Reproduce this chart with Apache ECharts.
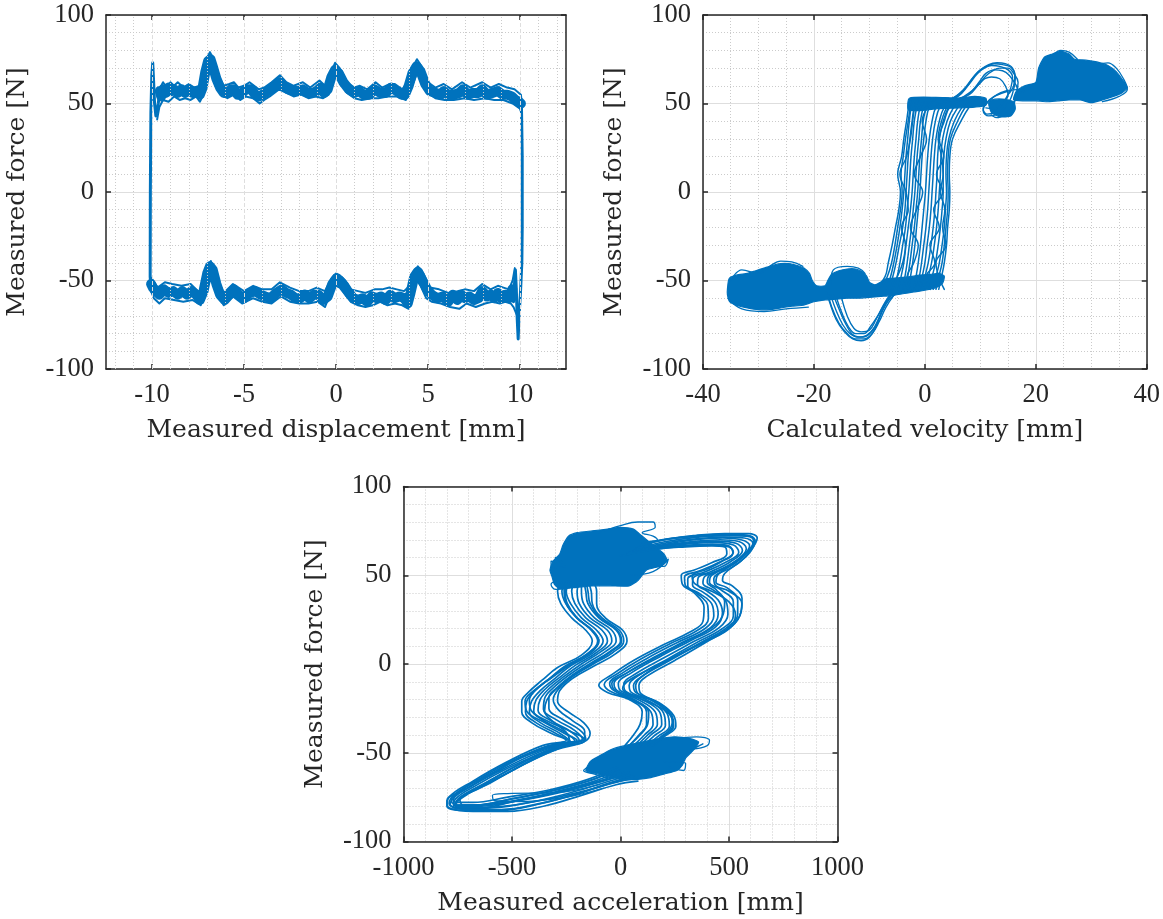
<!DOCTYPE html>
<html>
<head>
<meta charset="utf-8">
<script src="https://cdn.jsdelivr.net/npm/echarts@6/dist/echarts.min.js"></script>
<style>
  html, body { margin: 0; padding: 0; background: #ffffff; }
  #chart { width: 1163px; height: 919px; }
</style>
</head>
<body>
<div id="chart"></div>
<script>
// ---------------------------------------------------------------------------
// Axis ticks
// ---------------------------------------------------------------------------
const forceTicks = [-100, -50, 0, 50, 100];
const dispTicks = [-10, -5, 0, 5, 10];
const dispMinorGrid = [-12, -11, -9, -8, -7, -6, -4, -3, -2, -1, 1, 2, 3, 4, 6, 7, 8, 9, 11, 12];
const velTicks = [-40, -20, 0, 20, 40];
const accTicks = [-1000, -500, 0, 500, 1000];

// ---------------------------------------------------------------------------
// Force vs displacement: upper branch (moving right) and lower branch (moving left)
// ---------------------------------------------------------------------------
const dispUpper = [[-9.58,57],[-9.5,54],[-9.4,58],[-9.25,56],[-9.1,59],[-8.95,57],[-8.8,58],[-8.6,56],[-8.4,58],[-8.2,56],[-8.0,58],[-7.8,56],[-7.6,57],[-7.4,55],[-7.25,59],[-7.1,68],[-6.95,74],[-6.82,75],[-6.7,71],[-6.5,64],[-6.3,59],[-6.1,56],[-5.9,56],[-5.7,58],[-5.55,58],[-5.35,55],[-5.1,56],[-4.9,58],[-4.6,58],[-4.4,55],[-4.2,54],[-4.0,55],[-3.7,57],[-3.4,59],[-3.1,62],[-2.85,60],[-2.6,58],[-2.3,57],[-2.05,57],[-1.8,58],[-1.55,56],[-1.3,56],[-1.05,57],[-0.85,59],[-0.65,56],[-0.45,58],[-0.25,65],[-0.05,69],[0.15,67],[0.4,62],[0.7,58],[1.0,56],[1.25,57],[1.5,55],[1.8,55],[2.1,58],[2.4,56],[2.7,56],[3.0,59],[3.3,57],[3.55,55],[3.75,55],[3.95,60],[4.15,67],[4.38,71],[4.6,68],[4.85,61],[5.1,57],[5.4,56],[5.7,55],[5.85,57],[6.1,55],[6.4,55],[6.7,56],[6.9,58],[7.15,55],[7.45,56],[7.75,56],[7.95,58],[8.2,55],[8.5,56],[8.8,57],[9.05,55],[9.3,55],[9.55,54],[9.75,52],[9.95,51],[10.05,50]];
const dispUpperHi = [[-9.6,58],[-9.4,62],[-9.2,59],[-9.0,62],[-8.8,60],[-8.6,62],[-8.3,59],[-8.0,61],[-7.7,59],[-7.4,60],[-7.2,64],[-7.0,76],[-6.85,79],[-6.7,76],[-6.4,66],[-6.1,60],[-5.8,61],[-5.55,62],[-5.3,59],[-5.0,60],[-4.7,62],[-4.45,60],[-4.2,58],[-3.9,59],[-3.5,62],[-3.05,66],[-2.7,62],[-2.3,60],[-1.8,62],[-1.4,59],[-0.9,63],[-0.6,60],[-0.3,67],[-0.05,73],[0.2,70],[0.6,62],[1.0,59],[1.3,60],[1.7,58],[2.15,62],[2.5,59],[2.9,61],[3.2,61],[3.6,58],[3.9,62],[4.15,70],[4.4,75],[4.65,71],[5.0,62],[5.4,59],[5.85,61],[6.3,58],[6.85,62],[7.3,59],[7.95,62],[8.4,59],[8.85,61],[9.3,59],[9.7,58],[10.05,55],[10.1,50]];
const dispUpperLo = [[-9.72,41],[-9.6,48],[-9.4,52],[-9.1,51],[-8.8,54],[-8.5,52],[-8.2,53],[-7.9,52],[-7.6,54],[-7.4,51],[-7.2,55],[-7.0,64],[-6.85,70],[-6.7,68],[-6.45,60],[-6.2,55],[-5.9,53],[-5.55,55],[-5.2,52],[-4.9,54],[-4.5,53],[-4.15,50],[-3.9,52],[-3.6,54],[-3.1,58],[-2.7,56],[-2.3,54],[-1.9,55],[-1.5,53],[-1.1,54],[-0.7,53],[-0.4,55],[-0.1,65],[0.2,63],[0.6,56],[1.0,53],[1.4,52],[1.9,53],[2.3,53],[2.8,54],[3.3,54],[3.8,52],[4.1,59],[4.4,67],[4.7,64],[5.0,56],[5.4,53],[5.9,52],[6.4,52],[7.0,53],[7.5,52],[8.1,53],[8.6,52],[9.1,52],[9.6,50],[10.0,47],[10.1,44]];
const dispLower = [[9.58,-55],[9.52,-58],[9.4,-60],[9.2,-58],[9.0,-60],[8.8,-57],[8.6,-60],[8.4,-58],[8.2,-59],[7.95,-56],[7.75,-60],[7.5,-61],[7.25,-59],[7.0,-60],[6.8,-58],[6.6,-61],[6.35,-58],[6.1,-62],[5.8,-59],[5.5,-60],[5.2,-58],[4.95,-55],[4.7,-50],[4.45,-45],[4.25,-48],[4.05,-57],[3.9,-63],[3.7,-60],[3.45,-59],[3.2,-60],[2.95,-58],[2.7,-61],[2.45,-59],[2.2,-60],[1.95,-59],[1.7,-62],[1.45,-60],[1.2,-61],[0.95,-60],[0.7,-57],[0.45,-53],[0.2,-50],[0.0,-49],[-0.2,-52],[-0.45,-59],[-0.7,-61],[-0.95,-58],[-1.2,-58],[-1.45,-60],[-1.7,-58],[-1.95,-60],[-2.2,-60],[-2.45,-58],[-2.7,-57],[-2.95,-55],[-3.25,-57],[-3.55,-60],[-3.85,-59],[-4.1,-58],[-4.4,-56],[-4.7,-57],[-5.0,-60],[-5.3,-58],[-5.55,-55],[-5.8,-58],[-6.05,-61],[-6.3,-58],[-6.5,-52],[-6.7,-44],[-6.85,-42],[-7.0,-46],[-7.2,-56],[-7.4,-61],[-7.6,-58],[-7.85,-56],[-8.1,-58],[-8.35,-56],[-8.6,-58],[-8.85,-56],[-9.1,-57],[-9.35,-55],[-9.6,-58],[-9.8,-56],[-9.95,-54],[-10.05,-52]];
const dispLowerHi = [[9.72,-43],[9.6,-50],[9.4,-55],[9.1,-54],[8.8,-53],[8.4,-55],[7.95,-52],[7.5,-56],[7.0,-55],[6.6,-56],[6.1,-57],[5.6,-55],[5.1,-54],[4.75,-46],[4.45,-42],[4.2,-45],[4.0,-53],[3.7,-56],[3.3,-55],[2.9,-54],[2.5,-55],[2.1,-55],[1.6,-57],[1.2,-56],[0.8,-55],[0.5,-50],[0.2,-47],[0.0,-46],[-0.25,-49],[-0.6,-56],[-1.05,-54],[-1.5,-56],[-2.0,-56],[-2.5,-54],[-3.05,-51],[-3.5,-55],[-4.0,-55],[-4.5,-53],[-5.0,-56],[-5.6,-52],[-6.1,-57],[-6.5,-48],[-6.8,-39],[-7.05,-42],[-7.4,-57],[-7.9,-52],[-8.4,-53],[-8.9,-52],[-9.3,-51],[-9.7,-54],[-10.0,-49],[-10.1,-48]];
const dispLowerLo = [[9.85,-70],[9.65,-65],[9.5,-63],[9.2,-62],[8.9,-63],[8.5,-62],[8.1,-63],[7.6,-65],[7.1,-63],[6.7,-66],[6.2,-65],[5.7,-63],[5.2,-62],[4.9,-60],[4.6,-53],[4.4,-50],[4.2,-54],[3.95,-66],[3.6,-64],[3.2,-63],[2.8,-64],[2.4,-62],[2.0,-64],[1.6,-65],[1.2,-64],[0.8,-62],[0.5,-58],[0.2,-54],[0.0,-53],[-0.3,-57],[-0.6,-65],[-1.0,-62],[-1.5,-63],[-2.0,-63],[-2.5,-62],[-3.0,-59],[-3.5,-63],[-4.0,-62],[-4.5,-60],[-5.1,-63],[-5.6,-59],[-6.1,-64],[-6.4,-58],[-6.75,-48],[-7.0,-50],[-7.35,-64],[-7.8,-61],[-8.3,-62],[-8.8,-61],[-9.3,-60],[-9.6,-63],[-9.9,-60],[-10.05,-56]];
// reversal edges at both stroke ends
const dispEdgeLeft = [[-10.06,-53],[-10.1,-48],[-10.09,0],[-10.06,45],[-10.01,66],[-9.96,73],[-9.91,62],[-9.86,50],[-9.79,43],[-9.73,42],[-9.66,50],[-9.58,57]];
const dispEdgeRight = [[10.0,51],[10.08,48],[10.12,20],[10.12,-20],[10.1,-40],[10.03,-56],[9.95,-70],[9.9,-83],[9.85,-72],[9.8,-55],[9.75,-44],[9.7,-52],[9.65,-62],[9.58,-55]];

// ---------------------------------------------------------------------------
// Force vs velocity
// ---------------------------------------------------------------------------
// dense regions (plateaus at constant speed)
const velLowBlob = [[-35.6,-55],[-35.3,-49],[-34,-47],[-32,-46],[-30.5,-44.5],[-29,-43],[-27.5,-41.5],[-26,-40.5],[-24.5,-40.5],[-23,-41.5],[-21.8,-43],[-20.8,-46],[-20.3,-50],[-19.5,-53],[-18,-53],[-17.5,-50],[-16.8,-46.5],[-15.5,-44.5],[-14,-43.5],[-12.5,-43.5],[-11.3,-45],[-10.5,-47.5],[-10,-51],[-9,-52.5],[-8,-51],[-7,-49],[-5,-48.5],[-3,-48],[-1,-47],[1,-46.5],[2.5,-46],[3.5,-47.5],[3.2,-51.5],[2,-54],[0,-55.5],[-2,-56.5],[-4,-57.5],[-6,-58.5],[-8,-59],[-10,-59.5],[-12,-60],[-14,-60],[-16,-60.5],[-18,-61],[-20,-62],[-22,-64],[-24,-64.5],[-26,-65.5],[-28,-66.5],[-30,-66.5],[-32,-65.5],[-34,-64],[-35.2,-62],[-35.6,-58]];
const velMidPlateau = [[-3,46.5],[-2.8,53],[2,53.5],[6,53],[9,54],[11,53],[11,49],[9,48],[6,47.5],[2,47],[-1,46]];
const velBumpKnot = [[11.5,50],[12,45],[13.5,42.5],[15.5,43],[16.3,47],[16,51],[14,52.5],[12,52]];
const velHighBlob = [[16,52],[16.5,57],[18,60],[20,62],[20.5,70],[21.5,76],[23,78],[24.5,79.5],[26,78],[27,75],[29,74.5],[31,73.5],[33,71.5],[34.5,68],[35.5,64],[36.5,59],[35.5,56],[34,54],[32,52],[30,50.5],[28,52],[26,52],[24,51.5],[22,51],[20,51.5],[18,51.5]];
// loose strands round the plateau clusters
const velStrands = [
  [[-35,-50],[-33,-44],[-30,-46],[-28,-42],[-26,-39],[-24,-39.5],[-22,-42]],
  [[-17,-52],[-16.5,-44],[-14,-42],[-12,-43],[-10.8,-46]],
  [[-35.5,-60],[-33,-66],[-29,-67.5],[-25,-66],[-21,-65]],
  [[22,72],[23,77],[24.5,80],[26,79],[27.5,75]],
  [[31,72],[33,73],[34.5,70],[35.8,64],[36.5,58],[35,54],[32,51]]
];
// force reversal around zero speed
const velRiseLevels = [-55,-48,-40,-30,-20,-10,0,10,20,30,40,48,53];
const velRiseX = [
  [-9,-7.2,-6.6,-5.9,-5.3,-4.7,-4.4,-4.9,-4.2,-3.8,-3.3,-2.9,-2.3],
  [-8,-6.8,-6.0,-5.4,-4.9,-4.4,-4.1,-4.3,-3.9,-3.5,-3.0,-2.6,-2],
  [-7,-6.2,-5.6,-5.0,-4.5,-4.1,-3.8,-3.6,-3.4,-3.1,-2.8,-2.4,-1.5],
  [-6.5,-5.8,-5.2,-4.6,-4.0,-3.6,-3.4,-3.2,-3.0,-2.7,-2.3,-1.9,-1],
  [-5.5,-5.0,-4.5,-4.0,-3.5,-3.2,-2.9,-2.7,-2.5,-2.2,-1.9,-1.4,-0.5],
  [-4.8,-4.3,-3.8,-3.4,-3.0,-2.6,-2.3,-2.1,-1.9,-1.6,-1.3,-0.8,0.3],
  [-4,-3.6,-3.2,-2.8,-2.4,-2.1,-1.8,-1.6,-1.4,-1.1,-0.8,-0.2,1],
  [-3.5,-3.1,-2.7,-2.3,-1.9,-1.6,-1.3,-1.1,-0.9,-0.6,-0.3,0.3,1.5],
  [-3,-2.6,-2.2,-1.8,-1.5,-1.2,-0.9,-0.7,-0.5,-0.2,0.2,0.8,2],
  [-2,-1.6,-1.2,-0.8,-0.5,-0.2,0.1,0.3,0.5,0.8,1.3,2.0,3.5],
  [-1.5,-1.0,-0.6,-0.2,0.2,0.5,0.7,0.9,1.1,1.4,1.9,2.7,4.2],
  [-1,-0.5,0,0.4,0.8,1.1,1.3,1.5,1.7,2.0,2.6,3.5,5],
  [-0.5,0,0.6,1.1,1.5,1.8,2.0,2.2,2.3,2.6,3.3,4.3,5.8],
  [0,0.6,1.2,1.7,2.1,2.4,2.6,2.8,2.9,3.2,4.0,5.2,6.5],
  [0.8,1.3,1.9,2.4,2.8,3.1,3.3,3.3,3.4,3.8,4.6,6.0,7.2],
  [1.5,2.0,2.6,3.1,3.5,3.7,3.9,3.8,3.9,4.3,5.3,6.7,8],
  [2,2.5,3.1,3.5,3.8,4.1,4.2,4.1,4.2,4.6,5.9,7.3,8.8],
  [2.5,3.0,3.5,3.9,4.1,4.4,4.5,4.4,4.5,5.0,6.5,8.0,9.5],
  [3.5,2.5,2.0,3.8,3.2,3.6,2.8,3.3,3.0,2.4,3.0,4.0,5.5],
  [-6,-5,-4,-3.5,-4.2,-3.0,-3.4,-4.5,-3.3,-2.6,-2.2,-1.8,-1],
  [-2.5,-3.2,-2.0,-1.2,-2.6,-1.5,-0.4,-1.9,-0.8,0.3,-0.5,0.5,1.5],
  [1,0.2,1.8,0.9,2.6,1.6,3.2,2.1,3.4,2.6,3.5,4.5,7]
];
// undershoot loop below the negative plateau
const velDipLoops = [
  [[-17.5,-57],[-16.8,-65],[-15.5,-74],[-14,-80],[-12.5,-83],[-11,-83],[-9.5,-80],[-8.2,-73],[-7,-65],[-5.5,-58]],
  [[-17,-58],[-16,-67],[-14.8,-75],[-13.5,-80],[-12,-82],[-10.5,-81],[-9,-76],[-7.8,-68],[-6.5,-61],[-5,-57]],
  [[-16,-59],[-15,-68],[-13.8,-76],[-12.5,-80],[-11,-80],[-9.8,-76],[-8.5,-70],[-7.2,-63],[-6,-58]],
  [[-15,-60],[-14,-70],[-12.8,-77],[-11.5,-79],[-10,-78],[-8.8,-72],[-7.5,-64],[-6.5,-59]],
  [[-17.8,-56],[-17.2,-62],[-16,-72],[-14.5,-79],[-13,-83],[-11.5,-84],[-10,-82],[-8.8,-76],[-7.8,-68],[-6.8,-61],[-6,-57]],
  [[-16.5,-58],[-15.5,-66],[-14.2,-75],[-12.8,-81],[-11.2,-82],[-9.6,-79],[-8.4,-72],[-7.4,-65],[-6.2,-59]]
];
// overshoot loop above the positive plateau
const velBumpLoops = [
  [[3,52],[5,53],[7,58],[8.5,64],[10,69],[11.5,72],[13,73],[14.5,72.5],[15.8,70],[16.3,64],[16,58],[15.5,53],[14.5,48],[13,44],[11.5,43],[10.5,46],[11,50],[12.5,54],[15,57],[17,58],[19,58.5]],
  [[4,51],[6,54],[7.5,59],[9,66],[10.5,70],[12,71.5],[13.5,71],[15,69],[15.8,65],[15.5,59],[14.8,54],[13.8,49],[12.5,45],[11.2,44],[10.5,47],[11.5,51],[13,55],[15,57.5]],
  [[5,50],[7,53],[8.5,57],[10,63],[11,67],[12.5,69],[14,68.5],[15.2,66],[16.5,60],[17,56],[18,57]],
  [[2,50],[5,52],[8,55],[9.5,60],[11,65.5],[12,68],[13.5,70],[15,70],[16,67],[16.8,62],[16.5,55],[15.8,48],[14.5,44],[13,42],[12,43.5]],
  [[6,52],[8,56],[9.8,61],[10.8,64],[12,65],[13.5,64],[14.5,60],[15,55],[14,50],[12.5,47],[11,47.5]],
  [[4.5,52],[6.5,56],[8,61],[9.5,67],[11,70.5],[12.5,72.5],[14,72],[15.5,70.5],[16.2,66],[16,60],[15,55]]
];

// ---------------------------------------------------------------------------
// Force vs acceleration
// ---------------------------------------------------------------------------
const accUpperBlob = [[-325,53],[-310,58],[-280,62],[-265,67],[-240,72],[-200,74],[-130,75],[-60,76],[0,77],[60,76],[90,73],[120,70],[150,67],[200,62],[215,58],[180,55],[120,53],[80,47],[40,44],[-40,44],[-130,44],[-220,43],[-280,42.5],[-305,45],[-315,49]];
const accLowerBlob = [[-160,-60],[-140,-55],[-100,-52],[-40,-48],[20,-46],[100,-44],[180,-42],[250,-41],[320,-42],[360,-44],[340,-48],[300,-53],[285,-57],[260,-60],[200,-62],[140,-64],[80,-65],[20,-65],[-40,-64],[-100,-62],[-140,-61]];
// from the positive-force cluster through the right-hand S to the negative cluster
const accRightS = [
  [[80,66],[200,70],[350,72.5],[480,73.5],[590,73.5],[630,71],[600,64],[555,58],[480,51],[470,47],[515,44],[560,37],[555,29],[510,21],[390,12],[250,2],[120,-7],[85,-12],[90,-16],[180,-22],[245,-29],[255,-35],[200,-41],[150,-46]],
  [[70,65],[210,69],[360,71.5],[490,72.5],[580,72],[620,69.5],[585,63],[530,57],[450,50.5],[440,46],[490,43],[540,36],[540,28],[490,20.5],[370,12],[235,2.5],[105,-6.5],[60,-12],[70,-16],[165,-21.5],[230,-28.5],[240,-35],[185,-41],[130,-46.5]],
  [[60,64],[200,68],[350,70.5],[480,71.5],[570,71],[610,68],[570,61],[500,55],[420,50],[410,46],[460,42],[520,35],[520,27],[470,20],[350,12],[220,3],[90,-6],[40,-12],[50,-16],[150,-21],[215,-28],[225,-35],[170,-41],[110,-47]],
  [[50,63.5],[190,67],[340,70],[470,71],[555,70],[595,66.5],[550,59.5],[470,53.5],[390,49.5],[380,45.5],[430,41.5],[485,35.5],[495,28],[455,20.5],[335,12.5],[200,3.5],[70,-5.5],[15,-11.5],[25,-15.5],[125,-20.5],[198,-27.5],[207,-34.5],[155,-40.5],[95,-47]],
  [[40,63],[180,66.5],[330,69],[460,70],[545,69],[580,65],[530,58],[440,52],[360,49],[355,45],[400,41],[450,36],[470,29],[440,21],[320,13],[180,4],[50,-5],[-10,-11],[0,-15],[100,-20],[180,-27],[190,-34],[140,-40],[80,-47]],
  [[30,62.5],[170,66],[315,68.2],[445,69.2],[532,68],[562,64],[505,57.5],[415,52],[335,48.5],[332,44.5],[380,40.5],[435,35],[450,28],[415,20.5],[290,12.5],[150,3.5],[30,-5],[-30,-11],[-15,-15],[80,-20],[160,-27],[170,-34],[125,-40],[65,-47]],
  [[20,62],[160,65.5],[300,67.5],[430,68.5],[520,67],[545,63],[480,57],[390,52],[310,48],[310,44],[360,40],[420,34],[430,27],[390,20],[260,12],[120,3],[10,-5],[-50,-11],[-30,-15],[60,-20],[140,-27],[150,-34],[110,-40],[50,-47]],
  [[10,61.5],[155,65],[300,66.8],[425,67.5],[500,66.5],[518,62.5],[450,57],[365,52.5],[295,49],[298,44.5],[350,40],[402,33],[405,25.5],[355,19],[230,11.5],[90,2.5],[-15,-5.5],[-75,-11.5],[-45,-15.5],[50,-20],[120,-27],[120,-34],[85,-40],[35,-46.5]],
  [[0,61],[150,64.5],[300,66],[420,66.5],[480,66],[490,62],[420,57],[340,53],[280,50],[285,45],[340,40],[385,32],[380,24],[320,18],[200,11],[60,2],[-40,-6],[-100,-12],[-60,-16],[40,-20],[100,-27],[90,-34],[60,-40],[20,-46]],
  [[100,68],[250,71],[400,72],[520,72.5],[600,72],[620,69],[590,62],[520,55],[430,48],[440,44],[500,41],[560,34],[540,25],[480,18],[380,12],[230,3],[100,-5],[30,-10],[10,-14],[80,-19],[190,-25],[240,-32],[220,-38],[160,-44]],
  [[90,67],[230,70.5],[380,72.5],[500,73],[585,72.5],[615,69],[575,62],[500,55.5],[410,50],[400,46],[440,42],[480,35],[470,27],[410,19.5],[290,12],[150,3],[30,-5],[-40,-11],[-20,-15.5],[70,-20.5],[130,-27.5],[125,-34],[90,-40],[40,-46]],
  [[10,61],[160,64.5],[310,66.5],[430,67],[500,66],[520,63],[470,58],[400,53.5],[330,49.5],[345,45],[420,41],[500,35],[530,27.5],[495,20],[380,12.5],[240,3.5],[110,-6],[70,-12],[80,-16.5],[170,-21.5],[235,-28.5],[245,-35],[195,-41],[140,-46]]
];
// from the negative-force cluster round the lower-left tip and up the left-hand S
const accLeftS = [
  [[60,-63],[-50,-67],[-200,-73],[-380,-79],[-560,-82.5],[-720,-82.5],[-800,-80],[-790,-75],[-680,-66],[-520,-55],[-360,-46],[-250,-43],[-320,-39],[-410,-33],[-455,-27],[-455,-21],[-425,-16],[-360,-9],[-290,-2],[-180,5],[-130,13],[-160,19],[-225,26],[-275,34],[-290,41],[-270,46]],
  [[45,-62.5],[-65,-66.5],[-215,-72],[-400,-77.5],[-580,-81],[-730,-81.5],[-790,-78.5],[-755,-72.5],[-640,-64],[-490,-54],[-345,-46.5],[-240,-43.5],[-300,-39],[-390,-33],[-438,-27],[-432,-21],[-398,-15.5],[-330,-8.5],[-260,-1.5],[-155,5.5],[-105,13],[-135,19],[-202,26],[-252,34],[-270,41],[-250,46]],
  [[30,-62],[-80,-66],[-230,-71],[-420,-76],[-600,-79],[-740,-80],[-780,-77],[-720,-70],[-600,-62],[-460,-53],[-330,-47],[-230,-44],[-280,-39],[-370,-33],[-420,-27],[-410,-21],[-370,-15],[-300,-8],[-230,-1],[-130,6],[-80,13],[-110,19],[-180,26],[-230,34],[-250,41],[-230,46]],
  [[15,-61],[-100,-66],[-265,-71.5],[-450,-76.5],[-625,-80],[-755,-80.5],[-770,-76.5],[-690,-69],[-570,-61],[-430,-52.5],[-305,-46.5],[-210,-43.5],[-255,-38.5],[-345,-32.5],[-400,-26.5],[-390,-20.5],[-350,-14.5],[-280,-7.5],[-205,-0.5],[-110,6.5],[-60,13],[-85,19],[-160,26],[-210,34],[-225,41],[-210,46.5]],
  [[0,-60],[-120,-66],[-300,-72],[-480,-77],[-650,-81],[-770,-81],[-760,-76],[-660,-68],[-540,-60],[-400,-52],[-280,-46],[-190,-43],[-230,-38],[-320,-32],[-380,-26],[-370,-20],[-330,-14],[-260,-7],[-180,0],[-90,7],[-40,13],[-60,19],[-140,26],[-190,34],[-200,41],[-190,47]],
  [[-10,-59],[-135,-65.5],[-315,-71.5],[-500,-76],[-665,-79.5],[-765,-79.5],[-740,-75],[-630,-67.5],[-505,-59],[-370,-51],[-255,-45.5],[-175,-42.5],[-210,-37.5],[-295,-31.5],[-355,-25.5],[-350,-19.5],[-310,-13.5],[-240,-6.5],[-155,0.5],[-70,7],[-20,13],[-40,19],[-120,26],[-170,34],[-180,41],[-180,47]],
  [[-20,-58],[-150,-65],[-330,-71],[-520,-75],[-680,-78],[-760,-78],[-720,-74],[-600,-67],[-470,-58],[-340,-50],[-230,-45],[-160,-42],[-190,-37],[-270,-31],[-330,-25],[-330,-19],[-290,-13],[-220,-6],[-130,1],[-50,7],[0,13],[-20,19],[-100,26],[-150,34],[-160,41],[-170,47]],
  [[40,-61],[-75,-65.5],[-240,-71],[-425,-75.5],[-605,-79],[-725,-79.5],[-740,-76.5],[-650,-70],[-515,-61],[-380,-52.5],[-260,-46.5],[-165,-43],[-165,-38],[-220,-32],[-285,-26],[-310,-20],[-285,-14],[-220,-7],[-125,0],[-35,6.5],[15,13],[-5,19],[-85,26],[-130,34],[-135,41],[-150,47]],
  [[100,-64],[0,-66],[-150,-71],[-330,-76],[-530,-80],[-690,-81],[-760,-79],[-700,-73],[-560,-64],[-420,-55],[-290,-48],[-170,-44],[-140,-39],[-170,-33],[-240,-27],[-290,-21],[-280,-15],[-220,-8],[-120,-1],[-20,6],[30,13],[10,19],[-70,26],[-110,34],[-110,41],[-130,47]],
  [[80,-66],[-20,-68],[-180,-74],[-350,-80],[-520,-83],[-680,-83],[-790,-81],[-800,-77],[-720,-71],[-580,-61],[-430,-51],[-300,-45],[-200,-43],[-260,-39],[-350,-33],[-430,-27],[-440,-21],[-400,-15],[-320,-8],[-240,-1],[-150,6],[-100,13],[-130,19],[-200,26],[-250,34],[-260,42],[-240,47]],
  [[70,-64],[-40,-67],[-190,-73],[-370,-78.5],[-550,-82],[-710,-82],[-785,-79],[-745,-73],[-620,-64],[-480,-54],[-340,-47],[-235,-43.5],[-250,-38.5],[-310,-32.5],[-350,-26.5],[-340,-20.5],[-300,-14.5],[-230,-7.5],[-140,-0.5],[-50,6.5],[5,13],[-15,19],[-95,26],[-140,34],[-150,41],[-160,47]],
  [[-15,-59],[-140,-65.5],[-320,-71.5],[-505,-76],[-670,-79.5],[-760,-79.5],[-735,-75],[-620,-67],[-490,-58],[-360,-50],[-250,-45],[-170,-42],[-230,-38],[-330,-32.5],[-410,-26.5],[-420,-20.5],[-390,-14.5],[-320,-7.5],[-240,-0.5],[-140,6],[-100,13],[-130,19],[-200,26],[-245,34],[-255,41],[-235,46.5]]
];
// loose strands at the cluster edges and inside the lower wedge
const accStrands = [
  [[-100,-68],[-300,-72.5],[-520,-73],[-590,-74],[-580,-77],[-450,-77.5],[-250,-75],[-80,-70]],
  [[-100,74],[0,78],[80,80],[150,80],[160,77],[100,74],[150,72],[170,70],[110,69]],
  [[-250,55],[-320,54],[-320,58],[-260,57],[-300,60]],
  [[50,50],[150,52],[220,59],[200,55],[130,56]],
  [[-230,43],[-300,42],[-320,45],[-290,47]],
  [[250,-42],[350,-41],[410,-43],[400,-46],[330,-48],[380,-45],[300,-50]],
  [[-150,-58],[-170,-60],[-120,-62],[-60,-64]],
  [[200,-55],[300,-56],[290,-60],[220,-58]]
];

// ---------------------------------------------------------------------------
// Styling helpers
// ---------------------------------------------------------------------------
const INK = '#262626';
const BLUE = '#0072BD';
const MAJOR_GRID = { color: '#dedede', width: 1 };
const MINOR_GRID = { color: '#cbcbcb', width: 1, type: [1, 2] };
const TICK_FONT = { fontFamily: 'Liberation Serif', fontSize: 26.5, color: INK };
const NAME_FONT = { fontFamily: 'DejaVu Serif', fontSize: 25, color: INK };
const plainNumber = v => String(v);

function mainAxis(position, gridIndex, min, max, interval, minorSplit, name, nameGap, margin, extra) {
  return Object.assign({
    type: 'value', gridIndex, position, min, max, interval,
    name, nameLocation: 'middle', nameGap, nameTextStyle: NAME_FONT,
    axisLine: { show: true, onZero: false, lineStyle: { color: INK, width: 1.5 } },
    axisTick: { show: true, inside: true, length: 5, lineStyle: { color: INK, width: 1.5 } },
    axisLabel: Object.assign({ show: true, margin, showMinLabel: true, showMaxLabel: true, formatter: plainNumber }, TICK_FONT),
    splitLine: { show: true, lineStyle: MAJOR_GRID },
    minorTick: { show: false, splitNumber: minorSplit },
    minorSplitLine: { show: true, lineStyle: MINOR_GRID }
  }, extra || {});
}

function mirrorAxis(position, gridIndex, min, max, interval, extra) {
  return Object.assign({
    type: 'value', gridIndex, position, min, max, interval,
    axisLine: { show: true, onZero: false, lineStyle: { color: INK, width: 1.5 } },
    axisTick: { show: true, inside: true, length: 5, lineStyle: { color: INK, width: 1.5 } },
    axisLabel: { show: false },
    splitLine: { show: false },
    minorSplitLine: { show: false }
  }, extra || {});
}

function trace(data, xi, yi, width, smooth) {
  return {
    type: 'line', xAxisIndex: xi, yAxisIndex: yi, data,
    showSymbol: false, symbol: 'none', silent: true, animation: false, z: 4,
    smooth: smooth || false,
    lineStyle: { color: BLUE, width, join: 'round', cap: 'round' },
    emphasis: { disabled: true }
  };
}

function patches(polys, xi, yi) {
  return {
    type: 'custom', xAxisIndex: xi, yAxisIndex: yi, silent: true, animation: false, z: 3,
    data: polys.map((p, i) => [p[0][0], p[0][1], i]),
    renderItem: (params, api) => ({
      type: 'polygon',
      shape: { points: polys[params.dataIndex].map(pt => api.coord(pt)), smooth: 0.2 },
      style: { fill: BLUE, stroke: BLUE, lineWidth: 1.2 }
    })
  };
}

function xGridMarks(values, xi, yi, style) {
  return {
    type: 'line', xAxisIndex: xi, yAxisIndex: yi, data: [], silent: true, animation: false, z: 1,
    markLine: {
      silent: true, animation: false, symbol: ['none', 'none'], label: { show: false },
      lineStyle: style, emphasis: { disabled: true },
      data: values.map(v => ({ xAxis: v }))
    }
  };
}

// ---------------------------------------------------------------------------
// Axes
// ---------------------------------------------------------------------------
const dispAxisExtra = {
  interval: 2.5,
  axisLabel: Object.assign({ show: true, margin: 13, showMinLabel: true, showMaxLabel: true,
    customValues: dispTicks, formatter: v => (v % 5 === 0 ? String(v) : '') }, TICK_FONT),
  axisTick: { show: true, inside: true, length: 5, customValues: dispTicks, lineStyle: { color: INK, width: 1.5 } },
  splitLine: { show: false },
  minorSplitLine: { show: false }
};

const xAxes = [
  mainAxis('bottom', 0, -12.5, 12.5, 5, 5, 'Measured displacement [mm]', 49, 13, dispAxisExtra),
  mirrorAxis('top', 0, -12.5, 12.5, 2.5, { axisTick: { show: true, inside: true, length: 5, customValues: dispTicks, lineStyle: { color: INK, width: 1.5 } } }),
  mainAxis('bottom', 1, velTicks[0], velTicks[velTicks.length - 1], 20, 4, 'Calculated velocity [mm]', 49, 13),
  mirrorAxis('top', 1, velTicks[0], velTicks[velTicks.length - 1], 20),
  mainAxis('bottom', 2, accTicks[0], accTicks[accTicks.length - 1], 500, 5, 'Measured acceleration [mm]', 49, 13),
  mirrorAxis('top', 2, accTicks[0], accTicks[accTicks.length - 1], 500)
];

const yAxes = [0, 1, 2].flatMap(g => [
  mainAxis('left', g, forceTicks[0], forceTicks[forceTicks.length - 1], 50, 5, 'Measured force [N]', 76, 12),
  mirrorAxis('right', g, forceTicks[0], forceTicks[forceTicks.length - 1], 50)
]);

// ---------------------------------------------------------------------------
// Series
// ---------------------------------------------------------------------------
const series = [];
// displacement panel
series.push(xGridMarks(dispMinorGrid, 0, 0, MINOR_GRID));
series.push(xGridMarks(dispTicks, 0, 0, MAJOR_GRID));
series.push(trace(dispUpper, 0, 0, 10));
series.push(trace(dispLower, 0, 0, 10));
[dispUpperHi, dispUpperLo, dispLowerHi, dispLowerLo].forEach(d => series.push(trace(d, 0, 0, 2)));
series.push(trace(dispEdgeLeft, 0, 0, 3));
series.push(trace(dispEdgeRight, 0, 0, 3));

// velocity panel
series.push(patches([velLowBlob, velMidPlateau, velBumpKnot, velHighBlob], 2, 2));
velStrands.forEach(d => series.push(trace(d, 2, 2, 1.3, 0.4)));
velRiseX.forEach(xs => series.push(trace(xs.map((x, i) => [x, velRiseLevels[i]]), 2, 2, 1.5, 0.4)));
velDipLoops.forEach(d => series.push(trace(d, 2, 2, 1.4, 0.4)));
velBumpLoops.forEach(d => series.push(trace(d, 2, 2, 1.4, 0.4)));

// acceleration panel
series.push(patches([accUpperBlob, accLowerBlob], 4, 4));
accRightS.forEach(d => series.push(trace(d, 4, 4, 1.7, 0.4)));
accLeftS.forEach(d => series.push(trace(d, 4, 4, 1.7, 0.4)));
accStrands.forEach(d => series.push(trace(d, 4, 4, 1.3, 0.4)));

// ---------------------------------------------------------------------------
const chart = echarts.init(document.getElementById('chart'), null, { renderer: 'canvas' });
chart.setOption({
  backgroundColor: '#ffffff',
  animation: false,
  textStyle: { fontFamily: 'Liberation Serif' },
  grid: [
    { left: 106, top: 15, width: 460, height: 354 },
    { left: 703, top: 15, width: 448, height: 354 },
    { left: 403.5, top: 486.5, width: 434, height: 355 }
  ],
  xAxis: xAxes,
  yAxis: yAxes,
  series
});
</script>
</body>
</html>
